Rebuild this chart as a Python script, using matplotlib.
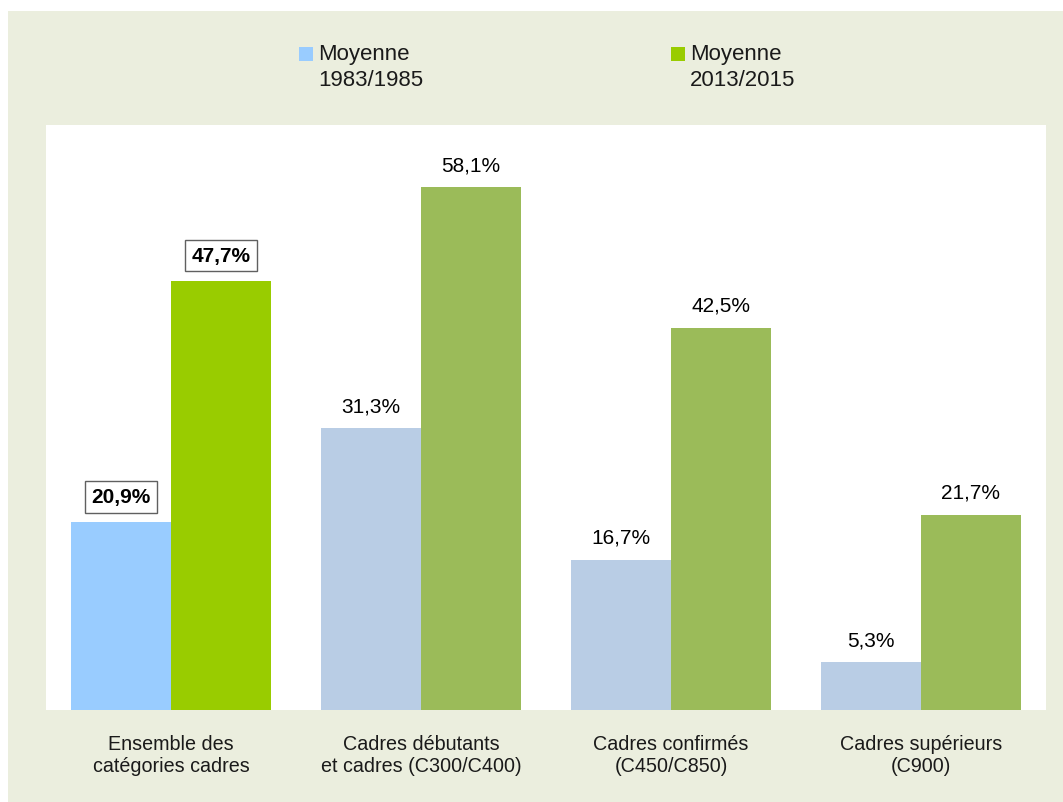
import matplotlib
matplotlib.use("Agg")
import matplotlib.pyplot as plt
from matplotlib.patches import Rectangle
import numpy as np

categories = ["Ensemble des\ncatégories cadres", "Cadres débutants\net cadres (C300/C400)",
              "Cadres confirmés\n(C450/C850)", "Cadres supérieurs\n(C900)"]
series_names = ["Moyenne\n1983/1985", "Moyenne\n2013/2015"]
values_1983 = [20.9, 31.3, 16.7, 5.3]
values_2013 = [47.7, 58.1, 42.5, 21.7]
labels_1983 = ["20,9%", "31,3%", "16,7%", "5,3%"]
labels_2013 = ["47,7%", "58,1%", "42,5%", "21,7%"]

BG = "#EBEEDE"
narrow = ["Liberation Sans Narrow", "Arial Narrow", "Liberation Sans", "DejaVu Sans"]
regular = ["Liberation Sans", "DejaVu Sans"]

W, H = 1063, 803
fig = plt.figure(figsize=(W / 100, H / 100), dpi=100)
fig.patch.set_facecolor("white")
fig.patches.append(Rectangle((8 / W, 0), 1 - 8 / W, 1 - 12 / H, transform=fig.transFigure,
                             facecolor=BG, edgecolor="none", zorder=-10))

ax = fig.add_axes([46 / W, (H - 711) / H, 1000 / W, (711 - 126) / H])
ax.set_facecolor("white")
x = np.arange(len(categories))
bw = 0.4
cols1 = ["#99CCFF"] + ["#B9CDE5"] * 3
cols2 = ["#99CC00"] + ["#9BBB59"] * 3
ax.bar(x - bw / 2, values_1983, width=bw, color=cols1, linewidth=0)
ax.bar(x + bw / 2, values_2013, width=bw, color=cols2, linewidth=0)
ax.set_xlim(-0.5, len(categories) - 0.5)
ax.set_ylim(0, 65)
ax.set_yticks([])
for s in ax.spines.values():
    s.set_visible(False)
ax.set_xticks(x)
ax.set_xticklabels(categories, fontsize=14.2, family=narrow, linespacing=1.22, color="#1a1a1a")
ax.tick_params(axis="x", length=0, pad=17)

for i in range(len(categories)):
    for xi, v, lab in [(x[i] - bw / 2, values_1983[i], labels_1983[i]),
                       (x[i] + bw / 2, values_2013[i], labels_2013[i])]:
        if i == 0:
            ax.annotate(lab, (xi, v), xytext=(0, 18), textcoords="offset points",
                        ha="center", va="center", fontsize=15, fontweight="bold", family=regular,
                        bbox=dict(boxstyle="square,pad=0.3", facecolor="white",
                                  edgecolor="#606060", linewidth=1))
        else:
            ax.annotate(lab, (xi, v), xytext=(0, 16), textcoords="offset points",
                        ha="center", va="center", fontsize=15, family=regular)

# legend
leg_x = [299, 671]
for name, lx, c in zip(series_names, leg_x, ["#99CCFF", "#99CC00"]):
    fig.patches.append(Rectangle((lx / W, 1 - 62 / H), 14 / W, 14 / H, transform=fig.transFigure,
                                 facecolor=c, edgecolor="none"))
    fig.text((lx + 19) / W, 1 - 44 / H, name, ha="left", va="top", fontsize=16,
             family=narrow, linespacing=1.3, color="#1a1a1a")

fig.savefig("out.png", dpi=100, facecolor=fig.get_facecolor())
